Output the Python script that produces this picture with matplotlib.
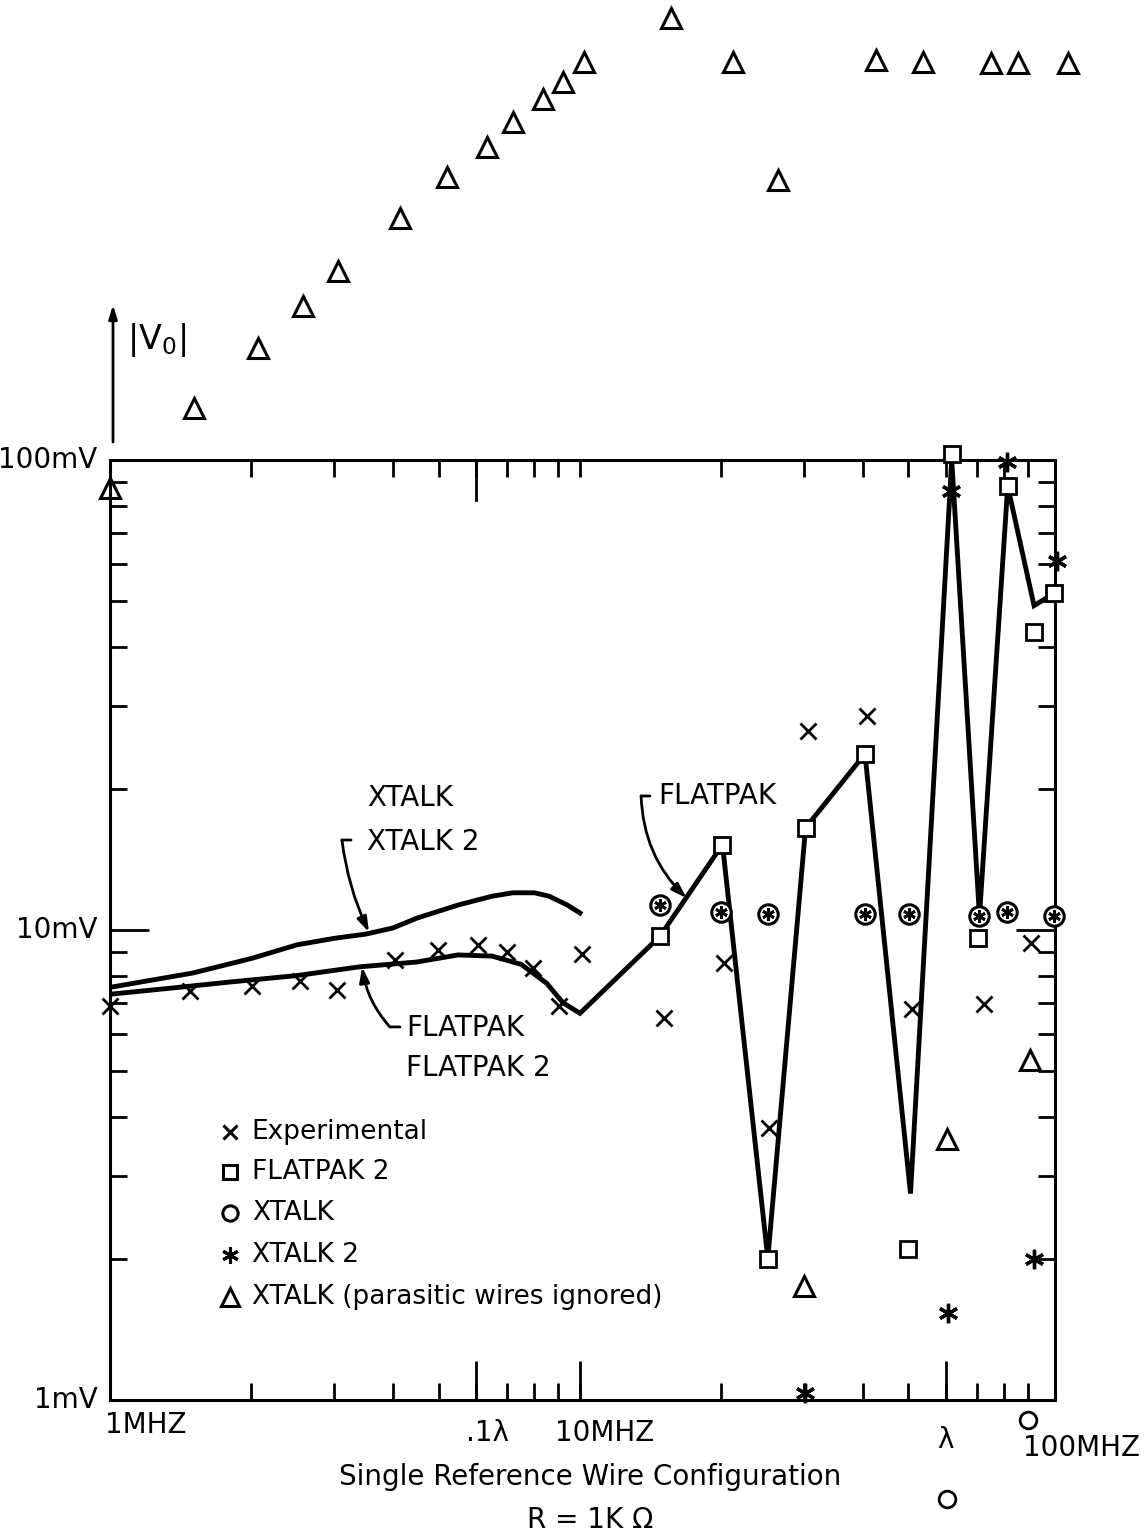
import matplotlib.pyplot as plt
from matplotlib.ticker import FixedLocator, NullFormatter

plt.rcParams['font.family'] = ['DejaVu Sans']
plt.rcParams['mathtext.default'] = 'regular'

# frequency in MHz, voltage in mV
exp_f = [1.0, 1.48, 2.01, 2.54, 3.04, 4.05, 4.98, 6.06, 7.0, 7.96, 9.02, 10.1,
         15.1, 20.3, 25.3, 30.6, 40.8, 50.8, 72.3, 91.0]
exp_v = [6.9, 7.4, 7.6, 7.8, 7.45, 8.65, 9.05, 9.3, 9.0, 8.3, 6.9, 8.9,
         6.5, 8.5, 3.8, 26.5, 28.5, 6.8, 6.95, 9.4]

fp2_f = [14.8, 20.1, 25.1, 30.2, 40.4, 50.0, 61.8, 70.3, 81.3, 92.5, 102.0]
fp2_v = [9.7, 15.2, 2.0, 16.5, 23.7, 2.1, 103.0, 9.6, 88.0, 43.0, 52.0]

# circle + star coincide (XTALK and XTALK 2)
both_f = [14.8, 20.0, 25.1, 40.5, 50.2, 70.8, 81.1, 102.0]
both_v = [11.3, 10.9, 10.8, 10.8, 10.8, 10.7, 10.9, 10.7]

xt_f = [89.8, 60.4]
xt_v = [0.906, 0.615]

xt2_f = [30.1, 60.7, 92.5, 61.5, 81.0, 103.5]
xt2_v = [1.035, 1.53, 2.0, 86.0, 99.0, 61.0]

tri_f = [1.0, 1.51, 2.06, 2.58, 3.05, 4.14, 5.20, 6.33, 7.22, 8.33, 9.22, 10.2,
         15.6, 21.2, 26.4, 42.6, 53.7, 74.8, 85.3, 109.0,
         29.9, 60.5, 90.6]
tri_v = [87.0, 129, 173, 213, 252, 327, 401, 464, 525, 585, 638, 703,
         871, 703, 394, 709, 703, 698, 698, 698,
         1.75, 3.6, 5.3]

# analytic curves
flatpak_f = [1.0, 1.4, 1.8, 2.5, 3.4, 4.5, 5.5, 6.5, 7.5, 8.5, 9.2, 10.0,
             14.8, 20.1, 25.1, 30.2, 40.4, 50.5, 61.8, 70.8, 81.3, 92.5, 102.0]
flatpak_v = [7.3, 7.55, 7.75, 8.0, 8.35, 8.55, 8.85, 8.8, 8.45, 7.7, 7.0, 6.65,
             9.7, 15.2, 2.0, 16.5, 23.7, 2.75, 100.0, 10.7, 88.0, 49.0, 52.0]

xtalk_f = [1.0, 1.5, 2.0, 2.5, 3.0, 3.5, 4.0, 4.5, 5.5, 6.5, 7.2, 8.0, 8.6, 9.4, 10.1]
xtalk_v = [7.55, 8.1, 8.7, 9.3, 9.6, 9.8, 10.1, 10.6, 11.3, 11.8, 12.0, 12.0, 11.8, 11.3, 10.8]

FS = 20
LW = 3.5

fig = plt.figure(figsize=(11.46, 15.38), dpi=100)
fig.patch.set_facecolor('white')
ax = fig.add_axes([110 / 1146, 138 / 1538, 945 / 1146, 940 / 1538])
ax.set_xscale('log')
ax.set_yscale('log')
ax.set_xlim(1, 102.5)
ax.set_ylim(1, 100)

for s in ax.spines.values():
    s.set_linewidth(2.2)

ax.xaxis.remove_overlapping_locs = False
ax.yaxis.remove_overlapping_locs = False
ax.xaxis.set_major_locator(FixedLocator([6, 10, 60]))
ax.xaxis.set_minor_locator(FixedLocator([2, 3, 4, 5, 6, 7, 8, 9, 10, 20, 30, 40, 50, 60, 70, 80, 90]))
ax.yaxis.set_major_locator(FixedLocator([10]))
ax.yaxis.set_minor_locator(FixedLocator([2, 3, 4, 5, 6, 7, 8, 9, 20, 30, 40, 50, 60, 70, 80, 90]))
for a in (ax.xaxis, ax.yaxis):
    a.set_major_formatter(NullFormatter())
    a.set_minor_formatter(NullFormatter())
ax.tick_params(axis='x', which='major', direction='in', length=28, width=2, top=False, bottom=True)
ax.tick_params(axis='x', which='minor', direction='in', length=12, width=2, top=True, bottom=True)
ax.tick_params(axis='y', which='major', direction='in', length=28, width=2, left=True, right=True)
ax.tick_params(axis='y', which='minor', direction='in', length=12, width=2, left=True, right=True)
ax.axvline(6, ymin=1 - 40 / 940, ymax=1, color='k', lw=2)

# curves
ax.plot(xtalk_f, xtalk_v, color='k', lw=LW, solid_capstyle='butt', zorder=3)
ax.plot(flatpak_f, flatpak_v, color='k', lw=LW, solid_joinstyle='miter', zorder=3)

# points
ax.plot(exp_f, exp_v, ls='none', marker='x', ms=11, mew=2, color='k', zorder=5, clip_on=False)
ax.plot(fp2_f, fp2_v, ls='none', marker='s', ms=11, mew=2, mfc='white', mec='k', zorder=6, clip_on=False)
ax.plot(both_f, both_v, ls='none', marker='o', ms=14, mew=2.2, mfc='white', mec='k', zorder=6, clip_on=False)
ax.plot(both_f, both_v, ls='none', marker=(6, 2, 0), ms=9, mew=2, color='k', zorder=7, clip_on=False)
ax.plot(xt_f, xt_v, ls='none', marker='o', ms=12, mew=2, mfc='none', mec='k', zorder=6, clip_on=False)
ax.plot(xt2_f, xt2_v, ls='none', marker=(6, 2, 0), ms=14, mew=2.4, color='k', zorder=7, clip_on=False)
ax.plot(tri_f, tri_v, ls='none', marker='^', ms=15, mew=2.2, mfc='none', mec='k', zorder=6, clip_on=False)

# annotations on the curves
def bracket(hook0, hook1, tip, rad):
    ax.annotate('', xy=hook1, xytext=hook0,
                arrowprops=dict(arrowstyle='-', lw=2, color='k', shrinkA=0, shrinkB=0))
    ax.annotate('', xy=tip, xytext=hook0,
                arrowprops=dict(arrowstyle='-|>,head_length=0.9,head_width=0.3', lw=2, color='k',
                                shrinkA=0, shrinkB=0, connectionstyle='arc3,rad=%s' % rad))

ax.text(3.52, 19.1, 'XTALK', fontsize=FS, ha='left', va='center')
ax.text(3.52, 15.4, 'XTALK 2', fontsize=FS, ha='left', va='center')
bracket((3.115, 15.54), (3.257, 15.54), (3.556, 9.9), 0.08)

ax.text(4.26, 6.19, 'FLATPAK', fontsize=FS, ha='left', va='center')
ax.text(4.26, 5.09, 'FLATPAK 2', fontsize=FS, ha='left', va='center')
bracket((3.94, 6.22), (4.14, 6.22), (3.44, 8.34), -0.15)

ax.text(14.66, 19.3, 'FLATPAK', fontsize=FS, ha='left', va='center')
bracket((13.49, 19.28), (14.09, 19.28), (16.85, 11.7), 0.2)

# legend drawn by hand
leg = [('x', 10, 'Experimental'), ('s', 10, 'FLATPAK 2'), ('o', 11, 'XTALK'),
       ((6, 2, 0), 12, 'XTALK 2'), ('^', 13, 'XTALK (parasitic wires ignored)')]
rows = [0.285, 0.2426, 0.199, 0.1543, 0.1096]
for (m, ms, lab), yy in zip(leg, rows):
    ax.plot([0.127], [yy], transform=ax.transAxes, marker=m, ms=ms, mew=2.2,
            mfc='none', mec='k', color='k', ls='none')
    ax.text(0.150, yy, lab, transform=ax.transAxes, fontsize=FS - 1, ha='left', va='center')

# axis labels as drawn on the original
ytr = ax.get_yaxis_transform()
ax.text(-0.013, 100, '100mV', transform=ytr, fontsize=FS, ha='right', va='center')
ax.text(-0.013, 10, '10mV', transform=ytr, fontsize=FS, ha='right', va='center')
ax.text(-0.013, 1, '1mV', transform=ytr, fontsize=FS, ha='right', va='center')

xtr = ax.get_xaxis_transform()
ax.text(0.975, -0.027, '1MHZ', transform=xtr, fontsize=FS, ha='left', va='center')
ax.text(6.35, -0.035, '.1λ', transform=xtr, fontsize=FS, ha='center', va='center')
ax.text(8.85, -0.035, '10MHZ', transform=xtr, fontsize=FS, ha='left', va='center')
ax.text(60, -0.043, 'λ', transform=xtr, fontsize=FS, ha='center', va='center')
ax.text(87.7, -0.051, '100MHZ', transform=xtr, fontsize=FS, ha='left', va='center')

ax.annotate('', xy=(113, 1538 - 305), xytext=(113, 1538 - 442), xycoords='figure pixels',
            textcoords='figure pixels',
            arrowprops=dict(arrowstyle='-|>,head_length=0.8,head_width=0.25', lw=2, color='k',
                            shrinkA=0, shrinkB=0))
fig.text(127 / 1146, 1 - 340 / 1538, '|V$_0$|', fontsize=FS + 4, ha='left', va='center')

fig.text(0.515, 1 - 1477 / 1538, 'Single Reference Wire Configuration', fontsize=FS,
         ha='center', va='center')
fig.text(0.515, 1 - 1520 / 1538, 'R = 1K Ω', fontsize=FS, ha='center', va='center')

fig.savefig('out.png', dpi=100, facecolor='white')
